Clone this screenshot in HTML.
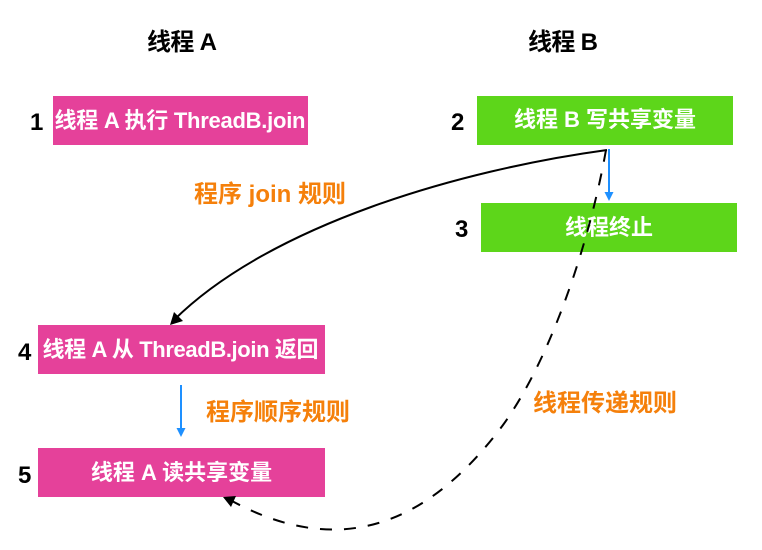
<!DOCTYPE html>
<html><head><meta charset="utf-8">
<style>
html,body{margin:0;padding:0;background:#fff}
body{width:762px;height:550px;overflow:hidden;position:relative}
svg{position:absolute;left:0;top:0}
text{font-family:"Liberation Sans","Noto Sans CJK SC",sans-serif;font-weight:700;font-size:22px}
.w{fill:#fff;text-anchor:middle}
.k{fill:#000;font-size:24px}
.o{fill:#f5800b;font-size:24px}
</style></head>
<body>
<svg width="762" height="550" viewBox="0 0 762 550" xmlns="http://www.w3.org/2000/svg">
<rect x="53" y="96" width="255" height="49" fill="#e5419a"/>
<rect x="477" y="96" width="256" height="49" fill="#5dd61a"/>
<rect x="481" y="203" width="256" height="49" fill="#5dd61a"/>
<rect x="38" y="325" width="287" height="49" fill="#e5419a"/>
<rect x="38" y="448" width="287" height="49" fill="#e5419a"/>

<text class="k" x="147" y="50" textLength="70">线程 A</text>
<text class="k" x="528" y="50" textLength="70">线程 B</text>
<text class="k" x="30" y="130">1</text>
<text class="k" x="451" y="130">2</text>
<text class="k" x="455" y="237">3</text>
<text class="k" x="18" y="360">4</text>
<text class="k" x="18" y="483">5</text>

<text class="w" x="180" y="128" textLength="251">线程 A 执行 ThreadB.join</text>
<text class="w" x="605" y="127">线程 B 写共享变量</text>
<text class="w" x="609" y="235">线程终止</text>
<text class="w" x="180.500" y="357" textLength="276">线程 A 从 ThreadB.join 返回</text>
<text class="w" x="181.500" y="480">线程 A 读共享变量</text>

<text class="o" x="194" y="202">程序 join 规则</text>
<text class="o" x="206" y="420">程序顺序规则</text>
<text class="o" x="533" y="411">线程传递规则</text>

<path d="M607 150C460 170 270 225 174 320" fill="none" stroke="#000" stroke-width="2"/>
<polygon points="170,325 174,312 183,321" fill="#000"/>
<path d="M606 150C590 240 552 357 503 425C432 520 345 562 232 501" fill="none" stroke="#000" stroke-width="2" stroke-dasharray="12 12"/>
<polygon points="223,497 236,496 231,507" fill="#000"/>

<rect x="608" y="149" width="2" height="44" fill="#1e90ff"/>
<polygon points="604.500,192 613.500,192 609,201" fill="#1e90ff"/>
<rect x="180" y="385" width="2" height="45" fill="#1e90ff"/>
<polygon points="176.500,428 185.500,428 181,437" fill="#1e90ff"/>
</svg>
</body></html>
